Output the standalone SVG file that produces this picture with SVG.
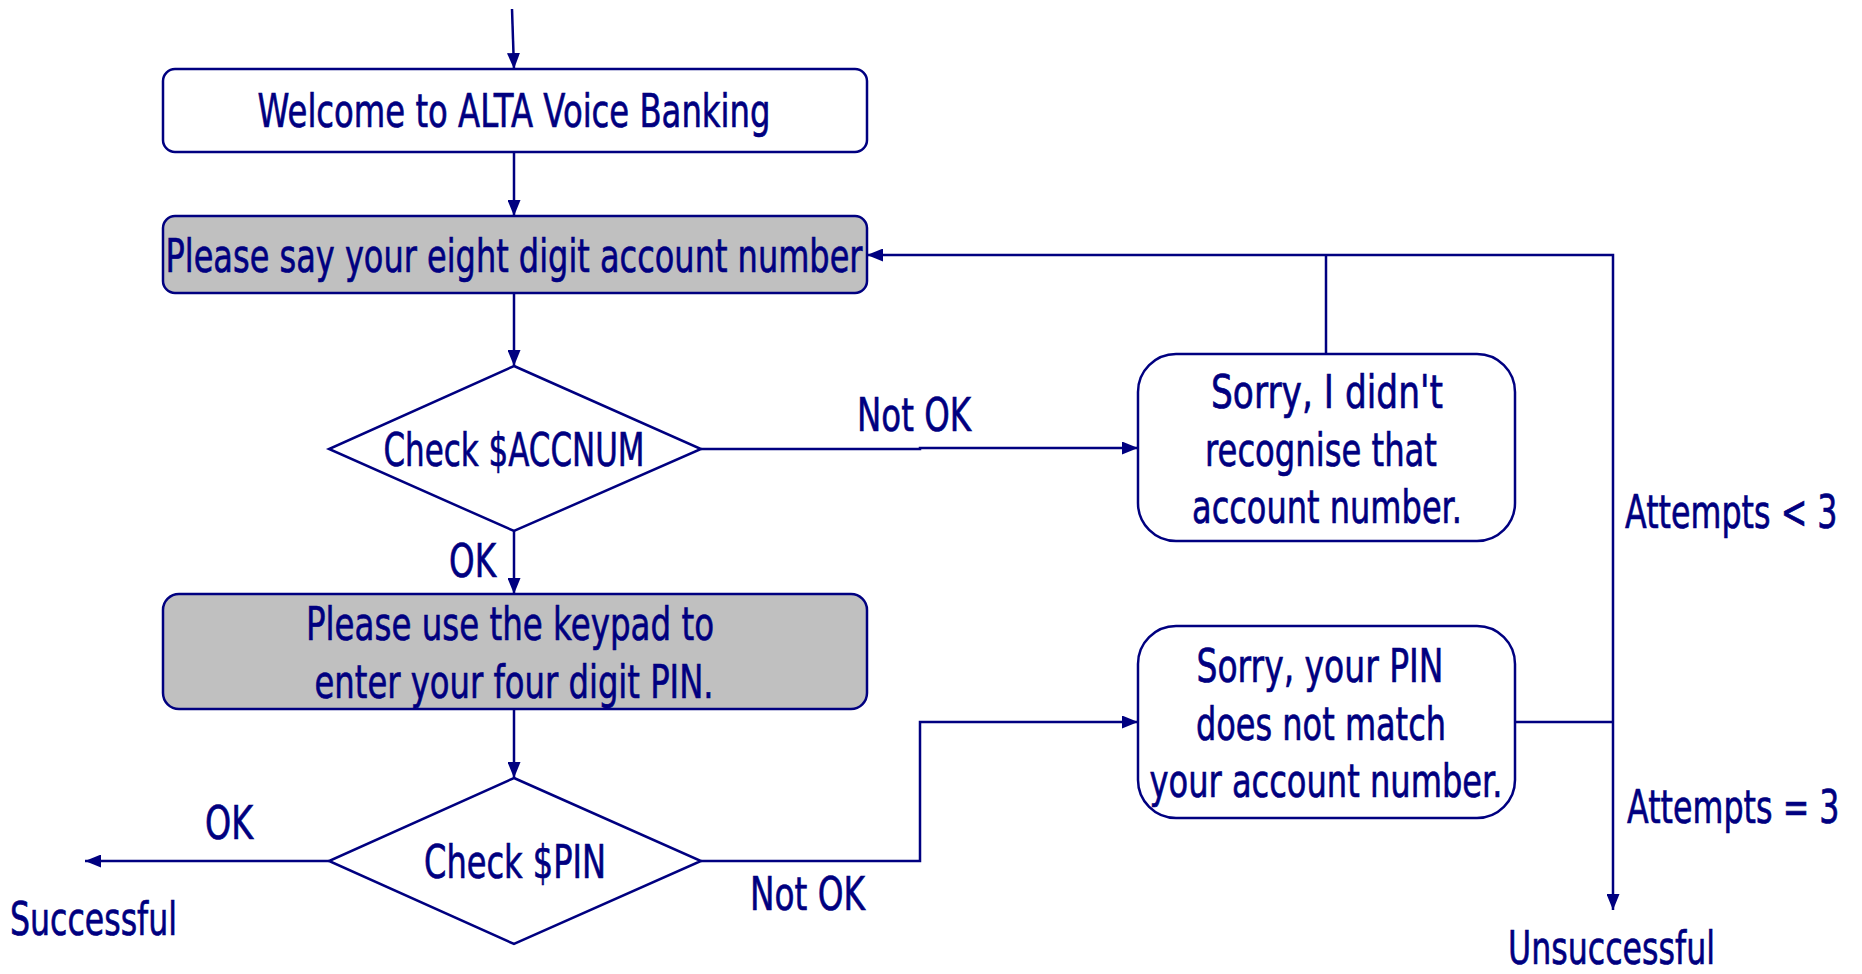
<svg xmlns="http://www.w3.org/2000/svg" width="1862" height="974" viewBox="0 0 1862 974">
<style>
.bg{fill:#ffffff}
.box{fill:#ffffff;stroke:#000080;stroke-width:2.5}
.gray{fill:#c0c0c0;stroke:#000080;stroke-width:2.5}
.ln{fill:none;stroke:#000080;stroke-width:2.5}
text{font-family:"DejaVu Sans","Liberation Sans",sans-serif;font-size:46px;fill:#000080;stroke:#000080;stroke-width:0.7}
.c{text-anchor:middle}
</style>
<defs>
<marker id="ah" viewBox="0 0 16 13" refX="16" refY="6.5" markerWidth="16" markerHeight="13" markerUnits="userSpaceOnUse" orient="auto">
<path d="M0,0 L16,6.5 L0,13 z" fill="#000080"/>
</marker>
</defs>
<rect class="bg" x="0" y="0" width="1862" height="974"/>
<g id="connectors">
<path class="ln" d="M512,9 L514,69" marker-end="url(#ah)"/>
<path class="ln" d="M514,152 L514,216" marker-end="url(#ah)"/>
<path class="ln" d="M514,293 L514,366" marker-end="url(#ah)"/>
<path class="ln" d="M701,449 L920,449 L920,448 L1138,448" marker-end="url(#ah)"/>
<path class="ln" d="M1326,354 L1326,255"/>
<path class="ln" d="M1515,722 L1613,722"/>
<path class="ln" d="M1613,722 L1613,255 L867,255" marker-end="url(#ah)"/>
<path class="ln" d="M1613,722 L1613,910" marker-end="url(#ah)"/>
<path class="ln" d="M514,531 L514,594" marker-end="url(#ah)"/>
<path class="ln" d="M514,709 L514,778" marker-end="url(#ah)"/>
<path class="ln" d="M329,861 L85,861" marker-end="url(#ah)"/>
<path class="ln" d="M701,861 L920,861 L920,722 L1138,722" marker-end="url(#ah)"/>
<text x="857" y="431" textLength="114" lengthAdjust="spacingAndGlyphs">Not OK</text>
<text x="449" y="577" textLength="47" lengthAdjust="spacingAndGlyphs">OK</text>
<text transform="translate(1625,528) scale(0.69,1)" x="0" y="0">Attempts &lt; 3</text>
<text transform="translate(1627,823) scale(0.69,1)" x="0" y="0">Attempts = 3</text>
<text x="205" y="839" textLength="48" lengthAdjust="spacingAndGlyphs">OK</text>
<text x="750" y="910" textLength="115" lengthAdjust="spacingAndGlyphs">Not OK</text>
<text x="10" y="935" textLength="167" lengthAdjust="spacingAndGlyphs">Successful</text>
<text x="1508" y="964" textLength="207" lengthAdjust="spacingAndGlyphs">Unsuccessful</text>
</g>
<g id="welcome">
<rect class="box" x="163" y="69" width="704" height="83" rx="12"/>
<text class="c" x="514" y="127" textLength="513" lengthAdjust="spacingAndGlyphs">Welcome to ALTA Voice Banking</text>
</g>
<g id="ask-accnum">
<rect class="gray" x="163" y="216" width="704" height="77" rx="12"/>
<text class="c" x="514" y="272" textLength="697" lengthAdjust="spacingAndGlyphs">Please say your eight digit account number</text>
</g>
<g id="check-accnum">
<polygon class="box" points="514,366 701,449 514,531 329,449"/>
<text class="c" x="514" y="466" textLength="261" lengthAdjust="spacingAndGlyphs">Check $ACCNUM</text>
</g>
<g id="sorry-accnum">
<rect class="box" x="1138" y="354" width="377" height="187" rx="38"/>
<text class="c" x="1327" y="408" textLength="232" lengthAdjust="spacingAndGlyphs">Sorry, I didn't</text>
<text class="c" x="1321" y="466" textLength="232" lengthAdjust="spacingAndGlyphs">recognise that</text>
<text class="c" x="1327" y="523" textLength="270" lengthAdjust="spacingAndGlyphs">account number.</text>
</g>
<g id="ask-pin">
<rect class="gray" x="163" y="594" width="704" height="115" rx="16"/>
<text class="c" x="510" y="640" textLength="408" lengthAdjust="spacingAndGlyphs">Please use the keypad to</text>
<text class="c" x="514" y="698" textLength="399" lengthAdjust="spacingAndGlyphs">enter your four digit PIN.</text>
</g>
<g id="check-pin">
<polygon class="box" points="514,778 701,861 514,944 329,861"/>
<text class="c" x="515" y="878" textLength="182" lengthAdjust="spacingAndGlyphs">Check $PIN</text>
</g>
<g id="sorry-pin">
<rect class="box" x="1138" y="626" width="377" height="192" rx="38"/>
<text class="c" x="1320" y="682" textLength="247" lengthAdjust="spacingAndGlyphs">Sorry, your PIN</text>
<text class="c" x="1321" y="740" textLength="250" lengthAdjust="spacingAndGlyphs">does not match</text>
<text class="c" x="1326" y="797" textLength="353" lengthAdjust="spacingAndGlyphs">your account number.</text>
</g>
</svg>
